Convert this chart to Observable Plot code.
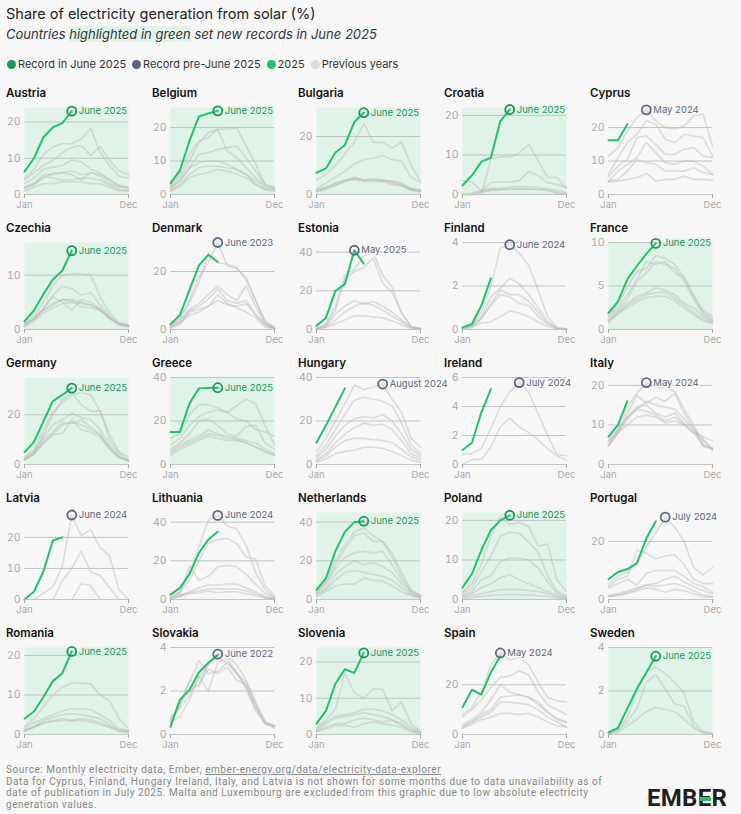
<!DOCTYPE html>
<html><head><meta charset="utf-8">
<script src="https://cdn.jsdelivr.net/npm/d3@7"></script>
<script src="https://cdn.jsdelivr.net/npm/@observablehq/plot@0.6"></script>
<style>
body{margin:0;background:#f7f7f7;font-family:Inter,"Noto Sans",sans-serif;color:#222;}
#root{position:relative;width:741px;height:814px;overflow:hidden;background:#f7f7f7;}
.title{position:absolute;left:6px;top:5px;font-size:14.5px;color:#222;white-space:nowrap;}
.subtitle{position:absolute;left:6px;top:26px;font-size:13px;font-style:italic;color:#333;white-space:nowrap;}
.hl{background:#e2f4e9;}
.legend{position:absolute;left:7px;top:57px;font-size:11px;display:flex;align-items:center;color:#333;white-space:nowrap;}
.legend .item{display:flex;align-items:center;margin-right:6px;}
.sw{width:9px;height:9px;border-radius:50%;display:inline-block;margin-right:2px;}
#grid{position:absolute;left:6px;top:86px;display:grid;grid-template-columns:repeat(5,146px);grid-auto-rows:135px;}
.panel{position:relative;}
.panel .name{font-size:11.5px;font-weight:600;height:15px;line-height:15px;color:#111;}
.panel svg{overflow:visible;display:block;}
.footer{position:absolute;left:6px;top:764px;font-family:Roboto,sans-serif;font-size:10px;line-height:11.6px;letter-spacing:0.55px;color:#888;white-space:nowrap;}
.footer u{text-decoration:underline;}
.logo{position:absolute;left:647px;top:784px;font-family:Roboto,sans-serif;font-weight:700;font-size:24px;letter-spacing:0.3px;color:#1f1f1f;}
.logo .e2{position:relative;display:inline-block;}
.logo .e2::after{content:"";position:absolute;left:2px;right:1px;top:47%;height:3.5px;background:#1ec46b;}
</style>
</head><body>
<div id="root">
  <div class="title">Share of electricity generation from solar (%)</div>
  <div class="subtitle">Countries <span class="hl">highlighted in green</span> set new records in June 2025</div>
  <div class="legend" id="legend"></div>
  <div id="grid"></div>
  <div class="footer">Source: Monthly electricity data, Ember, <u>ember-energy.org/data/electricity-data-explorer</u><br>Data for Cyprus, Finland, Hungary Ireland, Italy, and Latvia is not shown for some months due to data unavailability as of<br>date of publication in July 2025. Malta and Luxembourg are excluded from this graphic due to low absolute electricity<br>generation values.</div>
  <div class="logo">EMB<span class="e2">E</span>R</div>
</div>
<script>
const countries = ["Austria","Belgium","Bulgaria","Croatia","Cyprus","Czechia","Denmark","Estonia","Finland","France","Germany","Greece","Hungary","Ireland","Italy","Latvia","Lithuania","Netherlands","Poland","Portugal","Romania","Slovakia","Slovenia","Spain","Sweden"];
const newRecordJune2025 = [1,1,1,1,0,1,0,0,0,1,1,1,0,0,0,0,0,1,1,0,1,0,1,0,1];
const recordLabels = ["June 2025","June 2025","June 2025","June 2025","May 2024","June 2025","June 2023","May 2025","June 2024","June 2025","June 2025","June 2025","August 2024","July 2024","May 2024","June 2024","June 2024","June 2025","June 2025","July 2024","June 2025","June 2022","June 2025","May 2024","June 2025"];
const axisTop = [24,26,30,22,26,16,30,45,4,10,35,40,40,6,22,28,45,45,22,30,22,4,24,35,4];
const monthNames = ["January","February","March","April","May","June","July","August","September","October","November","December"];
const monthTicks = ["Jan","Feb","Mar","Apr","May","Jun","Jul","Aug","Sep","Oct","Nov","Dec"];
const legendLabels = ["Record in June 2025","Record pre-June 2025","2025","Previous years"];

const solar2025 = [
 [6.3,10,15.8,18.5,19.7,23],
 [3.3,7.2,16,23.3,24.2,25],
 [7.5,9,14.5,17,25,28.2],
 [2.3,4.8,8.3,9.3,18.5,21.5],
 [16.2,16.2,21],
 [1.5,3.5,6.5,9.2,10.8,14.5],
 [1.8,5,13.6,22,25.8,23.3],
 [2,6,20,23.5,41,34],
 [0.1,0.25,1.1,2.35],
 [1.9,3.2,5.8,7.3,8.7,9.9],
 [5,9,17.3,25.5,28,30.7],
 [15,15,28,35,35.2,35.3],
 [10,18,26.5,35],
 [1,1.5,3.6,5.2],
 [7,10,16],
 [0,2.5,9,19,20],
 [2.5,6,13,24,31,35],
 [5,11,25,35,40,40.5],
 [3,6.5,12.5,17.5,20,21.3],
 [7,9.5,10.5,12.5,21,27],
 [4,5.8,9.5,13.5,15.5,21],
 [0.35,1.6,2.05,2.85,3.3,3.65],
 [3,6.5,14,18,17,22.5],
 [11,18,16,25,31.5],
 [0.1,0.3,1.2,2.1,2.85,3.6]
];

const solarPrevious = [
 [[4.5,7,11,13.2,14,14,15.3,18.3,11.5,8,5,4.5],[4,6,8,9.5,11.5,13,13.5,10.8,13.2,9.5,6.5,5.5],[3,4.5,7,7.5,8,9.5,9,7,6,4,2.5,2],[2,3,5.5,5.5,6,6.5,5.5,6,5.5,4,2.5,1.5],[1.5,2.5,5,4.5,4,4,4.5,4.5,4,2.5,1.5,1],[1,2,3,3,3.5,3.5,3.5,3,3,2,1,1],[2,3,4.5,6,6,5.5,4,6,5,3,2,2]],
 [[2.5,6,12,16,17,19.5,19.5,20,14.5,9,3,2],[2,5,10,15.5,18.5,19.5,13,11,8,5,2.5,1.5],[2,4,8,12,12.5,13.5,14,14.5,11,7,3,2],[1.5,4,8,9.5,10,10,9,7.5,6,4,2,1.5],[1,3,6,8,8.5,8.5,8,7.5,6,3,1.5,1],[1,2.5,5,6,6.5,7.5,7,6,5,3,1.5,1]],
 [[5,7,10,14,18,24.5,18,18,16,18,10,4.5],[2,4,6,8,10.5,12,12.5,13.5,12,11.5,6,4],[1.5,2.5,4,5,5.5,5,5,5,4.5,4,2,1.5],[1,2,3.5,5,5.5,5,5,4.5,4,3,1.5,1],[1,2,3,4.5,5,4.5,4.5,4.5,3.5,3,1.5,1],[1.5,2.5,3.5,4.5,6,5,5.5,5,4.5,3.5,2,1.5]],
 [[null,null,0,9,9.5,9.5,10.5,12.7,8.5,4.3,4.3,1.5],[3.5,3.2,1,3,3.2,3.2,3.5,5.8,4.8,3,2.5,1.8],[0,0.3,1,1.5,1.5,2,2,2,1.8,1.5,1,0.5],[0,0,0.5,1,1.2,1.5,1.5,1.5,1.3,1,0.5,0.2],[0,0,0.8,1.3,1.3,1.3,1.3,1.3,1.3,1.3,0.2,0]],
 [[11.5,14,19,23,25.3,22,20,19.5,20.5,23.5,24,14.5],[6,11,15.5,18,22,21,16.5,15.5,18,17.5,17,11.5],[5.5,8.5,10.5,17,17.5,15,12,12,13.5,14,11.5,11],[4,7,9,11,15.5,12.5,9.5,9,10,10,8.5,6],[4,4.5,7,10.5,9.5,9,7,7,7,8,6.5,6],[3.8,4,4.5,5,6.3,4,4.5,4.5,5.5,4.5,4.5,4.3]],
 [[1,2.5,5,8,10,10.3,10.3,10,6,3,1.3,0.8],[1,2,4,6.3,8,7.5,6.3,6.8,4.5,2.5,1,0.7],[1,2,3.5,4.5,5.5,5.2,4.2,4,3.5,2.2,1,0.8],[0.8,2,3.8,6,5,3.5,5.5,5,3.8,2,1,0.6],[0.7,1.8,3.5,4.8,5.5,5.5,5,4.5,3.8,2.2,1,0.6],[0.5,1.5,3,4,4.8,5,4.8,4.5,3.5,2,0.8,0.5]],
 [[1.5,4,10,18,23,30,22,21,18,10,3,0.5],[1,3.5,9,16,26,23,22.5,21.5,17,10,2.5,1],[1,3,7,9,12,15,12,10,15,8,2,0.5],[0.8,2.5,6.5,8,10.5,14,10,9,10,5,2,0.5],[0.5,2,5,6,8,10,8.5,8,9,5,1.5,0.3],[0.5,2,6,7,8,12,9,7.5,6,4,1,0.3]],
 [[1,3,12,28,31,38,40,28,22,8,1.5,0.5],[0.5,2,10,26,30,32,37,24,19,9,1.5,0.5],[0.5,2,8,12,15,13,14.5,12,9,5,1,0.3],[0.3,1.5,5,9,12,14,12.5,10,7,4,1,0.3],[0.3,1,3,5,7,7,6.5,6,4.5,2.5,0.5,0.2]],
 [[0.05,0.2,0.8,2,3.75,3.9,3.5,2.95,1.8,0.6,0.1,0.02],[0.05,0.2,0.6,1.5,1.9,2.35,2.1,1.6,1.0,0.4,0.05,0.02],[0.03,0.15,0.5,1.2,1.8,1.6,1.6,1.3,0.8,0.3,0.05,0.02],[0.03,0.1,0.5,1.1,1.6,1.5,1.2,1.1,0.6,0.25,0.03,0.01],[0.02,0.1,0.3,0.35,0.6,0.85,0.75,0.6,0.35,0.15,0.02,0.01]],
 [[1.5,3,4.8,6.7,7,8.5,8.2,7.5,6,4,2.2,1.5],[1.5,2.5,4,5.8,7.8,7.5,7.8,6.5,6,3.7,2,1.2],[1.2,2.2,3.5,5.5,6.5,7.8,7.5,7,5.5,3.5,1.8,1],[1,2,3,3.8,4.2,4.8,4.5,4,3,2.5,1.5,1],[0.8,1.8,2.8,3.5,4,4.2,4.3,3.6,2.8,2,1.2,0.8],[1,1.8,2.5,3.2,3.7,3.8,3.8,3.3,2.5,1.7,1,0.7]],
 [[3,6,14,21,25,28,29,28,21.5,12,5,3],[2.5,5,12,20,26,29,24,21.5,21.5,10,4.5,2],[2,5,11,16,18,20.5,19,18,14,8,3.5,1.5],[2,4.5,10,13,17,16.5,18,15,12,7,3,1.5],[2,4,9,12,12.5,18,14,13,11,6,2.5,1.5],[1.8,4,8.5,12,16,17,16,14,12,6.5,3,1.5]],
 [[12,14,23,27.5,27.5,26,24,21,20,16,15,13],[9,12,18,22,24,25,24,27,30,28,18,9],[7,10,14,20,21,18,14,13,17.5,18,10,7],[6,9,11,13,16,14,13,12,11,10,7,5],[5,8,10,12,14,13.5,12,11.5,10,8,6,4.5],[4,7,9,11,13,12,11,11,10,8,6,4]],
 [[6,12,20,28,36.5,34.5,35.5,37,30,24,12,8],[4,9,16,23,29.5,31,30,29,27,19,9,5],[3,7,13,18,21,22,21.5,23,20,14,7,4],[2,5,10,14,17,19,18,18.5,16,11,5,3],[1.5,4,8,11,12,12,11.5,11,10,7,3.5,2],[1,2.5,5,6,6.5,8,8,7.5,6,4,2,1]],
 [[0.7,0.75,1.1,2.5,4,5,5.65,5,3.5,2,0.7,0.6],[0,0.35,0.35,1.2,2.6,3.2,2.6,2.2,1.7,1.1,0.6,0.3]],
 [[6,9,14.5,18,20.7,19.5,19.5,18.5,14,10,5,4],[5,8,13,17.5,15.5,17,16,18,13,9,4.5,4],[4.5,8,11.5,14,16,15,14.5,14,11.5,9,6.5,3.5],[5,9,12,14.5,15,13,12,13,10.5,8.5,6,4],[6,8.5,12,14,13.5,12.5,11,12,10,8,5,4],[5,8,10,12,12.5,12,10.5,11,10,8,7,6]],
 [[null,0,2,4,10.7,27.2,20.5,22.5,16.7,14,3,0],[null,null,null,0,6,10,15.5,8.8,7.7,3.8,0,null],[null,null,null,null,null,0,5,4.5,0,null,null,null]],
 [[1,4,14,27,41,43.5,38,36.5,28,14,5,1],[1,3,17.5,10,12,17,17.5,17,13,8,3,1],[1,4,10,20,29,31,31.5,29,22,21,7,2],[0.5,2,4,6,7.5,7.5,8,8,6,4,1.5,0.5],[0.5,2,3.5,4.5,5.5,5.5,5.5,5.5,4.5,3,1,0.3],[0.3,1.5,3,3.5,4.5,3.5,4,4,3,2,0.8,0.2]],
 [[4,10,20,28,35,37,33,30,24,14,5,2],[3.5,9,18,26,33,34.5,30,30,22,12,4,2],[3,8,16,22,24,25,24,25,18,10,4,1.5],[2.5,6,13,17,20,18,19,17,14,8,3,1],[2,5,10,14,15,14,13,12,10,6,2.5,1],[1.5,4,7,8,8,11,10,9.5,7,4,2,0.8]],
 [[2,4,9,16,20.8,19,19.5,18.5,13.5,14,5,2],[1.5,3,7,11,16,17,16.8,14.5,12,6,2,1],[1,2,5,6,9.5,10.5,10.5,10,8,4.5,1.5,0.7],[0.8,1.5,3,4,5.5,6.3,5,4,3,2,1,0.5],[0.5,1,1.5,2,2.5,2.5,2.5,2.3,2,1.5,0.6,0.3],[0.3,0.5,0.8,1,1.2,1.3,1.2,1.1,1,0.8,0.4,0.2]],
 [[5.5,8,9.5,12,18,23,28.4,25,20,11,8.5,11],[4.5,7,8,17,16,14,15,15.5,12,7,5.5,5.5],[4,5.5,7,5,9,10,10,10,8,5.5,4.5,2.5],[1.5,2,3,4,5,5.5,7,8,6,4.5,3,2],[1,1.5,2.5,3.5,5,4.5,5,5.5,4.5,3,1.5,1],[1,1.5,2,3,4,3.5,2.5,3.5,3,2,1,0.8]],
 [[2,4,7,10,12,13,13,12.8,10,8.5,4,1.5],[1.5,3,4,5,6,6.5,6.5,6.3,5,3.5,1.5,1],[1,2,3.5,4.3,5,5.3,5,4.5,4,2.5,1.2,0.8],[1,2,3,3.5,4,3.5,4,3.7,3,2,1,0.7],[0.8,1.8,2.8,3.3,3.5,3.5,3.5,3.2,2.5,1.8,0.8,0.5]],
 [[0.7,1.3,2.5,2.2,3.3,3.7,3.6,3.2,2.5,1.5,0.6,0.4],[0.6,1.5,2.4,3.4,2.8,2.9,3.3,2.8,2.2,1.2,0.5,0.3],[0.6,0.8,1.6,2.7,2.0,3.3,3.5,2.8,2.4,1.4,0.5,0.4],[0.5,1.4,2,2.3,3,2.8,3.1,2.5,2.3,1.3,0.6,0.3],[0.8,1.2,1.8,2.6,3.2,3.5,3.3,2.9,2.1,1.1,0.5,0.4]],
 [[2,4,7,17,11.5,10,12.5,12.5,6.5,9,3,1],[1.5,3.5,5,5.5,6,7,7,6.5,5.5,4,2,0.8],[1,3,4.5,5,5.5,6,5.5,5,4,3,1.5,0.5],[1,2,3,3,4,4.5,4,3.5,4,2.5,1,0.5],[0.8,1.5,2.5,2.5,2,3,3.5,3,2.5,2,0.8,0.3]],
 [[8,11,17,28,32.8,30,31,28,21,15,13.5,13],[7,10,14,19,23,23.5,25.5,24,17,12,10,8],[4,6,9,14,20,17,16,15,13,9,6.5,5],[3,5,8,10,15,15.5,16,15,12,9,6,5],[3,5,7,9,13,13,12.5,12,10,7,5,3],[2.5,4,6,7,8.5,8.5,8,8.5,7,5,3.5,3]],
 [[0.05,0.2,0.8,2,2.9,3.1,2.8,2.4,1.9,0.6,0.15,0.05],[0.05,0.15,0.6,1.2,2.4,2.75,2.1,1.4,1.3,0.4,0.1,0.03],[0.03,0.1,0.4,0.7,1.05,1.25,1.15,1.05,0.7,0.3,0.07,0.02]]
];

const C = {
  recordJune: "#14995a",
  recordPre: "#5c6682",
  y2025: "#1ec46b",
  prev: "#dcdcdc",
  greenBg: "#e0f3e8",
  pageBg: "#f7f7f7",
  axis: "#a9a9a9",
  grid: "#c2c2c2"
};

// legend
const legendColors = [C.recordJune, C.recordPre, C.y2025, C.prev];
const legend = document.getElementById("legend");
legendLabels.forEach((t, i) => {
  const it = document.createElement("span");
  it.className = "item";
  it.innerHTML = `<span class="sw" style="background:${legendColors[i]}"></span>${t}`;
  legend.appendChild(it);
});

const grid = document.getElementById("grid");
const num = v => (v == null ? NaN : v);

countries.forEach((name, i) => {
  const panel = document.createElement("div");
  panel.className = "panel";
  const h = document.createElement("div");
  h.className = "name";
  h.textContent = name;
  panel.appendChild(h);

  const cur = solar2025[i].map((v, m) => ({m, v: num(v)}));
  const prev = solarPrevious[i].flatMap((s, k) => s.map((v, m) => ({k, m, v: num(v)})));
  const all = cur.concat(prev).filter(d => !isNaN(d.v));
  const maxV = d3.max(all, d => d.v);
  const recMonth = monthNames.indexOf(recordLabels[i].split(" ")[0]);
  const rec = [{m: recMonth, v: maxV, label: recordLabels[i]}];
  const top = axisTop[i];
  const ticks = d3.ticks(0, top, 2);
  const isNew = !!newRecordJune2025[i];
  const bg = isNew ? C.greenBg : C.pageBg;
  const recColor = isNew ? C.recordJune : C.recordPre;

  const svg = Plot.plot({
    width: 146, height: 112,
    marginLeft: 18, marginRight: 24, marginTop: 6, marginBottom: 19,
    style: {background: "transparent", overflow: "visible", fontFamily: "Inter, 'Noto Sans', sans-serif"},
    x: {type: "linear", domain: [0, 11]},
    y: {domain: [0, top]},
    marks: [
      isNew ? Plot.frame({fill: C.greenBg, stroke: "none"}) : null,
      Plot.ruleY(ticks.filter(t => t > 0), {stroke: C.grid, strokeWidth: 1}),
      Plot.line(prev, {x: "m", y: "v", z: "k", stroke: "#b8b8b8", strokeOpacity: 0.42, strokeWidth: 1.7}),
      Plot.line(cur, {x: "m", y: "v", stroke: C.y2025, strokeWidth: 2}),
      Plot.ruleY([0], {stroke: "#c4c4c4", strokeWidth: 1}),
      Plot.axisY({ticks, label: null, tickSize: 0, tickPadding: 4, fontSize: 10.5, color: C.axis, tickFormat: d3.format("~g")}),
      Plot.axisX({ticks: [0, 11], label: null, tickFormat: d => monthTicks[d], tickSize: 4, tickPadding: 3, fontSize: 9.5, color: C.axis}),
      Plot.dot(rec, {x: "m", y: "v", r: 4.5, stroke: recColor, strokeWidth: 1.8, fill: "none"}),
      Plot.text(rec, {x: "m", y: "v", text: "label", dx: 7, textAnchor: "start", fill: recColor, fontSize: 9.5, stroke: bg, strokeWidth: 3})
    ]
  });
  panel.appendChild(svg);
  grid.appendChild(panel);
});
</script>
</body></html>
